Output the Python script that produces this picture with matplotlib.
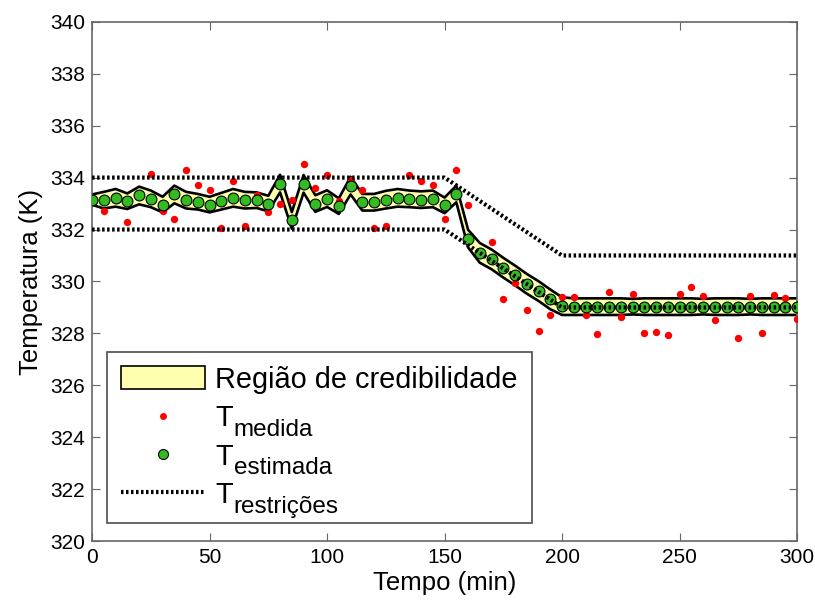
# Temperatura medida x estimada com região de credibilidade e restrições

import matplotlib.pyplot as plt
import numpy as np

plt.rcParams['font.family'] = ['Liberation Sans', 'DejaVu Sans']

# Dados
tempo = np.arange(0, 301, 5)

t_estimada = [333.15, 333.13, 333.22, 333.09, 333.31, 333.18, 332.96, 333.35, 333.13, 333.07,
              332.96, 333.09, 333.22, 333.13, 333.13, 333.00, 333.77, 332.35, 333.76, 333.00,
              333.19, 332.90, 333.69, 333.05, 333.05, 333.15, 333.22, 333.18, 333.15, 333.18,
              332.93, 333.37, 331.65, 331.10, 330.85, 330.53, 330.23, 329.91, 329.63, 329.31,
              329.05, 329.03, 329.03, 329.03, 329.03, 329.03, 329.03, 329.03, 329.03, 329.03,
              329.03, 329.03, 329.03, 329.03, 329.03, 329.03, 329.03, 329.03, 329.03, 329.03,
              329.03]

# meia largura da região de credibilidade
meia_largura = [0.20, 0.32, 0.34, 0.30, 0.34, 0.32, 0.30, 0.34, 0.32, 0.30,
                0.30, 0.32, 0.34, 0.32, 0.30, 0.30, 0.34, 0.32, 0.34, 0.32,
                0.32, 0.30, 0.34, 0.32, 0.32, 0.34, 0.34, 0.32, 0.32, 0.32,
                0.30, 0.32, 0.34, 0.38, 0.38, 0.38, 0.38, 0.38, 0.38, 0.38,
                0.34, 0.32, 0.32, 0.32, 0.32, 0.32, 0.30, 0.32, 0.32, 0.32,
                0.32, 0.32, 0.30, 0.32, 0.32, 0.32, 0.30, 0.32, 0.32, 0.32,
                0.32]

t_medida = [333.15, 332.70, 333.30, 332.28, 333.30, 334.12, 332.70, 332.41, 334.31, 333.70,
            333.54, 332.05, 333.85, 332.12, 333.31, 332.69, 332.99, 333.13, 334.53, 333.60,
            334.08, 333.10, 333.90, 333.51, 332.06, 332.15, 333.20, 334.08, 333.86, 333.73,
            332.41, 334.28, 332.96, 331.10, 331.53, 329.31, 329.95, 328.90, 328.09, 328.69,
            329.40, 329.40, 328.70, 327.99, 329.60, 328.63, 329.53, 328.00, 328.05, 327.94,
            329.50, 329.78, 329.43, 328.50, 329.00, 327.81, 329.43, 328.00, 329.47, 329.37,
            328.57]

restr_tempo = [0, 150, 200, 300]
restr_sup = [334, 334, 331, 331]
restr_inf = [332, 332, 329, 329]

legenda_sub = ['medida', 'estimada', 'restrições']

est = np.array(t_estimada)
hw = np.array(meia_largura)

fig = plt.figure(figsize=(8.15, 6.04), dpi=100)
ax = fig.add_axes([0.113, 0.104, 0.865, 0.860])

ax.fill_between(tempo, est - hw, est + hw, facecolor='#ffffb0', edgecolor='none', zorder=1)
ax.plot(tempo, est + hw, color='black', lw=1.9, zorder=2)
ax.plot(tempo, est - hw, color='black', lw=1.9, zorder=2)
ax.plot(tempo, t_medida, 'o', color='red', ms=5.3, mec='none', zorder=3)
ax.plot(tempo, t_estimada, 'o', mfc='#33bb22', mec='black', mew=0.8, ms=7.8, zorder=4)
ax.plot(restr_tempo, restr_sup, color='black', lw=3, linestyle=(0, (0.6, 0.6)), zorder=5)
ax.plot(restr_tempo, restr_inf, color='black', lw=3, linestyle=(0, (0.6, 0.6)), zorder=5)

# entradas da legenda
h_reg = plt.Rectangle((0, 0), 1, 1, facecolor='#ffffb0', edgecolor='black', lw=1.2)
h_med, = ax.plot([], [], 'o', color='red', ms=5, mec='none')
h_est, = ax.plot([], [], 'o', mfc='#33bb22', mec='black', mew=0.8, ms=7.2)
h_res, = ax.plot([], [], color='black', lw=3, linestyle=(0, (0.6, 0.6)))
leg = ax.legend([h_reg, h_med, h_est, h_res],
                ['Região de credibilidade', 'T', 'T', 'T'],
                loc='lower left', bbox_to_anchor=(0.0213, 0.035), borderaxespad=0,
                fontsize=20.8, handlelength=2.9, handleheight=0.85, labelspacing=0.36,
                borderpad=0.48, handletextpad=0.36, fancybox=False,
                framealpha=1, edgecolor='0.3')
leg.get_frame().set_linewidth(1.2)

ax.set_xlim(0, 300)
ax.set_ylim(320, 340)
ax.set_xticks(np.arange(0, 301, 50))
ax.set_yticks(np.arange(320, 341, 2))
ax.tick_params(direction='in', top=True, right=True, labelsize=15, length=6,
               color='0.4', pad=5)
for s in ax.spines.values():
    s.set_color('0.4')
    s.set_linewidth(1.2)

ax.set_xlabel('Tempo (min)', fontsize=18.5, labelpad=3)
ax.set_ylabel('Temperatura (K)', fontsize=18.5, labelpad=5)

# subscritos dos rótulos da legenda
fig.canvas.draw()
W, H = fig.bbox.width, fig.bbox.height
for txt, sub in zip(leg.get_texts()[1:], legenda_sub):
    bb = txt.get_window_extent()
    bx, by = txt.get_transform().transform(txt.get_position())
    fig.text((bb.x1 + 1) / W, (by - 9.5) / H, sub, fontsize=17.5, va='baseline', ha='left')

fig.savefig('out.png', dpi=100)
